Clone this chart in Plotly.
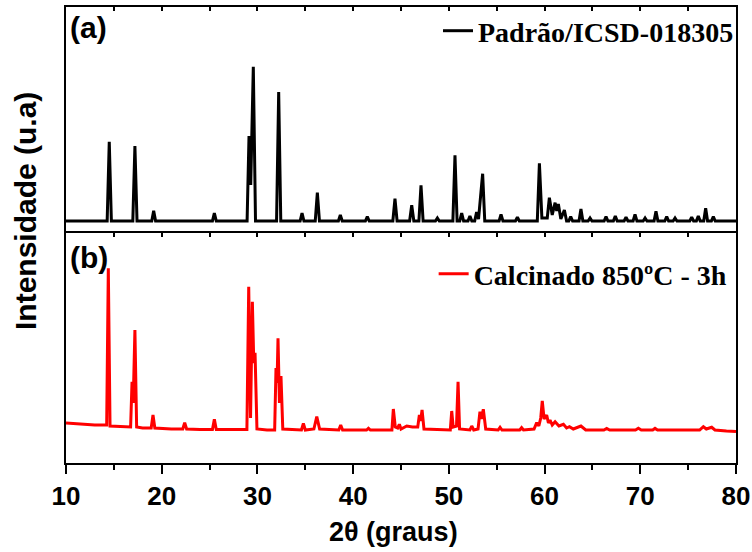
import plotly.graph_objects as go

# ---- data (2theta in degrees, intensity in arbitrary units) ----
# (a) reference pattern ICSD-018305
pattern_a = [
    (10, 12), (14.3, 12), (14.52, 91.3), (14.74, 12), (16.98, 12), (17.2, 87), (17.42, 12),
    (18.96, 12), (19.16, 22.3), (19.36, 12), (25.3, 12), (25.5, 20), (25.7, 12),
    (28.92, 12), (29.12, 97), (29.3, 48), (29.57, 166.3), (29.8, 12),
    (32.0, 12), (32.22, 141), (32.44, 12), (34.46, 12), (34.66, 20), (34.86, 12),
    (36.04, 12), (36.26, 40.3), (36.48, 12), (38.46, 12), (38.66, 18), (38.86, 12),
    (41.28, 12), (41.48, 16.3), (41.68, 12), (44.15, 12), (44.37, 34.3), (44.59, 12),
    (45.9, 12), (46.12, 27.7), (46.34, 12), (46.87, 12), (47.09, 47.7), (47.31, 12),
    (48.6, 12), (48.8, 15), (49.0, 12), (50.42, 12), (50.64, 77.7), (50.86, 12),
    (51.14, 12), (51.34, 20), (51.54, 12), (52.0, 12), (52.2, 17), (52.4, 12),
    (52.7, 12), (52.9, 21), (53.1, 14), (53.53, 59.3), (53.75, 12),
    (55.25, 12), (55.45, 18.7), (55.65, 12), (56.96, 12), (57.16, 15.7), (57.36, 12),
    (59.24, 12), (59.46, 69.7), (59.72, 15), (60.28, 15), (60.5, 35.3), (60.8, 18),
    (61.1, 30.3), (61.27, 22), (61.44, 29), (61.7, 14), (62.07, 23), (62.3, 12),
    (62.53, 12), (62.73, 16.3), (62.93, 12), (63.6, 12), (63.8, 24), (64.0, 12),
    (64.55, 12), (64.75, 15), (64.95, 12), (66.22, 12), (66.42, 16.3), (66.62, 12),
    (67.19, 12), (67.39, 17), (67.59, 12), (68.31, 12), (68.51, 15.7), (68.71, 12),
    (69.25, 12), (69.45, 18.7), (69.65, 12), (70.3, 12), (70.5, 15), (70.7, 12),
    (71.44, 12), (71.64, 21.7), (71.84, 12), (72.56, 12), (72.76, 16.3), (72.96, 12),
    (73.43, 12), (73.63, 15), (73.83, 12), (75.17, 12), (75.37, 15.7), (75.57, 12),
    (75.86, 12), (76.06, 17), (76.26, 12), (76.63, 12), (76.83, 24.7), (77.03, 12),
    (77.43, 12), (77.63, 16.3), (77.83, 12), (80, 12),
]

# (b) sample calcined at 850 C for 3 h
pattern_b = [
    (10, 40), (11.5, 39), (13, 38), (14.25, 38), (14.42, 194.7), (14.6, 37), (15.5, 36.5),
    (16.75, 36), (16.9, 81.3), (17.02, 60), (17.2, 133), (17.38, 36), (18, 35), (18.9, 35),
    (19.09, 48), (19.28, 35), (21, 34), (22.2, 34), (22.4, 40.3), (22.6, 34), (24, 33.5),
    (25.3, 33.5), (25.5, 43.7), (25.7, 33.5), (28.9, 33.5), (29.09, 176.3), (29.28, 45),
    (29.47, 161.3), (29.62, 100), (29.75, 110.3), (29.95, 34), (31.0, 33), (31.8, 33),
    (31.94, 95), (32.05, 80), (32.15, 124.7), (32.3, 60), (32.46, 87), (32.65, 34),
    (34.6, 33), (34.8, 39.7), (35.0, 33), (35.9, 34), (36.2, 46.3), (36.5, 34),
    (38.5, 33), (38.7, 38), (38.9, 33), (41.4, 33), (41.6, 34.7), (41.8, 33),
    (44.05, 33), (44.2, 54), (44.4, 36), (44.65, 35), (44.83, 38.7), (45.0, 34),
    (45.6, 37), (46.2, 36), (46.75, 36), (46.92, 48), (47.05, 42), (47.2, 53), (47.4, 34),
    (50.15, 33), (50.3, 52), (50.45, 36), (50.8, 37), (50.96, 81.3), (51.12, 34),
    (52.2, 33), (52.39, 37), (52.6, 33), (53.05, 34), (53.25, 51.3), (53.4, 44),
    (53.6, 53.7), (53.85, 34), (55.15, 33), (55.35, 35.7), (55.55, 33), (57.4, 33),
    (57.6, 35.3), (57.8, 33), (58.9, 34), (59.18, 40.3), (59.4, 37), (59.6, 45),
    (59.76, 62), (59.95, 44), (60.22, 48), (60.4, 40), (60.57, 43), (60.8, 38),
    (61.1, 41.3), (61.5, 37), (61.97, 38.7), (62.3, 35), (62.6, 36.3), (63.0, 34),
    (63.8, 37), (64.3, 33), (66.2, 33), (66.49, 34.5), (66.8, 33), (69.5, 33),
    (69.8, 34.7), (70.1, 33), (71.3, 33), (71.54, 34.7), (71.8, 33), (76.2, 33),
    (76.59, 36.3), (76.9, 34), (77.46, 35.7), (77.8, 33), (79, 32), (80, 31.5),
]

two_theta_a = [p[0] for p in pattern_a]
intensity_a = [p[1] for p in pattern_a]
two_theta_b = [p[0] for p in pattern_b]
intensity_b = [p[1] for p in pattern_b]

x_ticks = [10, 20, 30, 40, 50, 60, 70, 80]
name_a = "Padrão/ICSD-018305"
name_b = "Calcinado 850ºC - 3h"

SANS = "Liberation Sans, Arial, sans-serif"
SERIF = "Liberation Serif, Times New Roman, serif"

fig = go.Figure()
fig.add_trace(go.Scatter(x=two_theta_a, y=intensity_a, mode="lines", name=name_a,
                         line=dict(color="black", width=3), xaxis="x2", yaxis="y2",
                         legend="legend"))
fig.add_trace(go.Scatter(x=two_theta_b, y=intensity_b, mode="lines", name=name_b,
                         line=dict(color="#ff0000", width=3), xaxis="x", yaxis="y",
                         legend="legend2"))
# helper traces so the tick-only top axes are drawn
fig.add_trace(go.Scatter(x=[10, 80], y=[None, None], xaxis="x3", yaxis="y",
                         showlegend=False, hoverinfo="skip"))
fig.add_trace(go.Scatter(x=[10, 80], y=[None, None], xaxis="x4", yaxis="y2",
                         showlegend=False, hoverinfo="skip"))

split = 230 / 456
axis_common = dict(range=[10, 80], showgrid=False, zeroline=False, showline=True,
                   linecolor="black", linewidth=2, automargin=False)

fig.update_layout(
    width=752, height=552,
    margin=dict(l=66, r=16, t=7, b=89, autoexpand=False),
    paper_bgcolor="white", plot_bgcolor="white",
    xaxis=dict(**axis_common, anchor="y", domain=[0, 1], tickvals=x_ticks,
               ticks="outside", ticklen=9, tickwidth=2, tickcolor="black",
               tickfont=dict(family=SANS, size=26, color="black", weight="bold"),
               minor=dict(dtick=5, tick0=0, ticks="outside", ticklen=5, tickwidth=2,
                          tickcolor="black")),
    xaxis3=dict(**axis_common, anchor="y", overlaying="x", side="top", dtick=5, tick0=0,
                ticks="inside", ticklen=4, tickwidth=1.5, tickcolor="black",
                showticklabels=False),
    xaxis2=dict(range=[10, 80], showgrid=False, zeroline=False, showline=False,
                automargin=False, anchor="y2", domain=[0, 1], ticks="",
                showticklabels=False),
    xaxis4=dict(**axis_common, anchor="y2", overlaying="x2", side="top", dtick=5, tick0=0,
                ticks="inside", ticklen=4, tickwidth=1.5, tickcolor="black",
                showticklabels=False),
    yaxis=dict(domain=[0, split], range=[0, 230], showgrid=False, zeroline=False,
               showline=True, linecolor="black", linewidth=2, mirror=True,
               ticks="", showticklabels=False, automargin=False),
    yaxis2=dict(domain=[split, 1], range=[0, 226], showgrid=False, zeroline=False,
                showline=True, linecolor="black", linewidth=2, mirror=True,
                ticks="", showticklabels=False, automargin=False),
    legend=dict(x=1.0045, xanchor="right", y=(463 - 31) / 456, yanchor="middle",
                bgcolor="rgba(0,0,0,0)", borderwidth=0,
                font=dict(family=SERIF, size=28, color="black", weight="bold")),
    legend2=dict(x=0.995, xanchor="right", y=(463 - 274) / 456, yanchor="middle",
                 bgcolor="rgba(0,0,0,0)", borderwidth=0,
                 font=dict(family=SERIF, size=28, color="black", weight="bold")),
    showlegend=True,
)

fig.add_annotation(text="(a)", xref="paper", yref="paper", x=0.003, y=(463 - 27) / 456,
                   xanchor="left", yanchor="middle", showarrow=False,
                   font=dict(family=SANS, size=30, color="black", weight="bold"))
fig.add_annotation(text="(b)", xref="paper", yref="paper", x=0.003, y=(463 - 257) / 456,
                   xanchor="left", yanchor="middle", showarrow=False,
                   font=dict(family=SANS, size=30, color="black", weight="bold"))
fig.add_annotation(text="2θ (graus)", xref="paper", yref="paper", x=(393 - 66) / 670,
                   y=(463 - 532) / 456, xanchor="center", yanchor="middle", showarrow=False,
                   font=dict(family=SANS, size=27, color="black", weight="bold"))
fig.add_annotation(text="Intensidade (u.a)", xref="paper", yref="paper",
                   x=(26 - 66) / 670, y=(463 - 211) / 456, textangle=-90,
                   xanchor="center", yanchor="middle", showarrow=False,
                   font=dict(family=SANS, size=30, color="black", weight="bold"))

fig.write_html("out.html", config={"displayModeBar": False},
               post_script="document.body.style.margin='0';document.body.style.padding='0';")
